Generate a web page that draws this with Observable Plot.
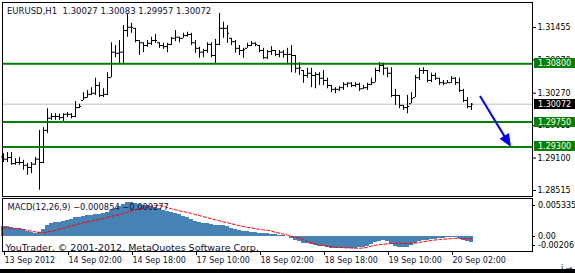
<!DOCTYPE html>
<html><head><meta charset="utf-8">
<script src="https://cdn.jsdelivr.net/npm/d3@7"></script>
<script src="https://cdn.jsdelivr.net/npm/@observablehq/plot@0.6"></script>
<style>
body{margin:0;background:#fff}
#wrap{position:relative;width:575px;height:273px;overflow:hidden;background:#fff}
#wrap svg{display:block}
#wrap text{white-space:pre}
#strip{position:absolute;left:0;right:0;bottom:0;height:4px;background:#000}
</style></head><body><div id="wrap"></div>
<script>
const symbol = "EURUSD,H1";
const open = [
1.2912,1.2908,1.2911,1.2900,1.2902,1.2902,1.2897,1.2893,1.2899,1.2908,
1.2902,1.2960,1.2982,1.2985,1.2985,1.2983,1.2989,1.2989,1.2985,1.3001,
1.3014,1.3019,1.3025,1.3027,1.3041,1.3023,1.3025,1.3055,1.3101,1.3099,
1.3101,1.3140,1.3146,1.3144,1.3122,1.3118,1.3113,1.3117,1.3122,1.3118,
1.3113,1.3111,1.3115,1.3126,1.3128,1.3126,1.3131,1.3133,1.3118,1.3108,
1.3101,1.3104,1.3115,1.3095,1.3115,1.3144,1.3144,1.3126,1.3120,1.3108,
1.3104,1.3108,1.3113,1.3117,1.3113,1.3104,1.3091,1.3102,1.3104,1.3097,
1.3101,1.3097,1.3097,1.3095,1.3072,1.3068,1.3059,1.3063,1.3059,1.3061,
1.3054,1.3050,1.3041,1.3034,1.3034,1.3037,1.3043,1.3045,1.3041,1.3043,
1.3035,1.3037,1.3043,1.3046,1.3068,1.3077,1.3072,1.3063,1.3023,1.3023,
1.3005,1.3001,1.3008,1.3019,1.3055,1.3068,1.3068,1.3050,1.3059,1.3054,
1.3046,1.3045,1.3046,1.3054,1.3046,1.3032,1.3014,1.30027];
const high = [
1.2918,1.2920,1.2920,1.2909,1.2911,1.2906,1.2900,1.2902,1.2911,1.2960,
1.2965,1.2999,1.2990,1.2990,1.2989,1.2990,1.2992,1.2990,1.3012,1.3007,
1.3028,1.3032,1.3037,1.3054,1.3046,1.3035,1.3064,1.3118,1.3113,1.3122,
1.3149,1.3169,1.3153,1.3144,1.3122,1.3118,1.3122,1.3128,1.3133,1.3118,
1.3117,1.3117,1.3128,1.3140,1.3128,1.3135,1.3137,1.3135,1.3122,1.3110,
1.3106,1.3118,1.3118,1.3124,1.3171,1.3155,1.3149,1.3126,1.3122,1.3113,
1.3108,1.3117,1.3120,1.3118,1.3113,1.3108,1.3104,1.3111,1.3104,1.3104,
1.3104,1.3108,1.3113,1.3095,1.3082,1.3068,1.3072,1.3072,1.3064,1.3064,
1.3068,1.3054,1.3041,1.3037,1.3039,1.3046,1.3046,1.3046,1.3046,1.3045,
1.3041,1.3045,1.3054,1.3072,1.3082,1.3081,1.3073,1.3073,1.3034,1.3023,
1.3005,1.3023,1.3028,1.3059,1.3072,1.3073,1.3068,1.3063,1.3063,1.3054,
1.3050,1.3050,1.3057,1.3055,1.3054,1.3034,1.3019,1.30083];
const low = [
1.2902,1.2902,1.2897,1.2897,1.2897,1.2888,1.2879,1.2882,1.2897,1.2852,
1.2900,1.2954,1.2978,1.2978,1.2978,1.2976,1.2983,1.2981,1.2983,1.2999,
1.3014,1.3018,1.3023,1.3023,1.3019,1.3019,1.3023,1.3055,1.3091,1.3081,
1.3081,1.3128,1.3135,1.3118,1.3095,1.3100,1.3110,1.3113,1.3117,1.3108,
1.3106,1.3100,1.3113,1.3120,1.3118,1.3126,1.3128,1.3113,1.3099,1.3090,
1.3091,1.3099,1.3091,1.3081,1.3113,1.3126,1.3117,1.3113,1.3099,1.3095,
1.3090,1.3108,1.3111,1.3111,1.3100,1.3088,1.3088,1.3095,1.3093,1.3091,
1.3090,1.3081,1.3064,1.3063,1.3059,1.3045,1.3054,1.3037,1.3035,1.3041,
1.3041,1.3035,1.3028,1.3026,1.3030,1.3032,1.3037,1.3037,1.3037,1.3030,
1.3034,1.3032,1.3041,1.3046,1.3064,1.3059,1.3055,1.3019,1.3005,1.2999,
1.2996,1.2990,1.3008,1.3019,1.3050,1.3061,1.3046,1.3046,1.3050,1.3041,
1.3041,1.3045,1.3045,1.3041,1.3028,1.3010,1.2999,1.29957];
const close = [
1.2908,1.2911,1.2900,1.2902,1.2902,1.2897,1.2893,1.2899,1.2908,1.2902,
1.2960,1.2982,1.2985,1.2985,1.2983,1.2989,1.2989,1.2985,1.3001,1.3003,
1.3019,1.3025,1.3027,1.3041,1.3023,1.3025,1.3055,1.3101,1.3099,1.3101,
1.3140,1.3146,1.3146,1.3122,1.3118,1.3113,1.3117,1.3122,1.3122,1.3113,
1.3111,1.3115,1.3126,1.3128,1.3126,1.3131,1.3133,1.3118,1.3108,1.3101,
1.3104,1.3115,1.3095,1.3115,1.3144,1.3144,1.3135,1.3120,1.3108,1.3104,
1.3106,1.3113,1.3117,1.3115,1.3104,1.3091,1.3102,1.3104,1.3097,1.3101,
1.3097,1.3097,1.3095,1.3072,1.3073,1.3059,1.3063,1.3059,1.3061,1.3054,
1.3050,1.3041,1.3034,1.3034,1.3037,1.3043,1.3045,1.3041,1.3043,1.3035,
1.3037,1.3043,1.3046,1.3068,1.3077,1.3072,1.3063,1.3023,1.3023,1.3005,
1.3001,1.3003,1.3017,1.3055,1.3068,1.3068,1.3050,1.3059,1.3054,1.3046,
1.3045,1.3046,1.3054,1.3046,1.3032,1.3014,1.3003,1.30072];
const macd = [
0.00137,0.00137,0.00123,0.00116,0.00110,0.00096,0.00075,0.00055,0.00045,0.00055,
0.00096,0.00151,0.00178,0.00192,0.00205,0.00219,0.00233,0.00247,0.00267,0.00274,
0.00288,0.00295,0.00301,0.00315,0.00315,0.00322,0.00343,0.00370,0.00397,0.00418,
0.00452,0.00473,0.00473,0.00466,0.00452,0.00438,0.00432,0.00418,0.00404,0.00390,
0.00370,0.00356,0.00343,0.00329,0.00308,0.00288,0.00274,0.00247,0.00219,0.00199,
0.00185,0.00178,0.00164,0.00151,0.00158,0.00151,0.00137,0.00116,0.00103,0.00089,
0.00075,0.00069,0.00062,0.00055,0.00048,0.00041,0.00041,0.00034,0.00027,0.00021,
0.00014,0.00000,-0.00027,-0.00055,-0.00069,-0.00089,-0.00096,-0.00110,-0.00123,-0.00130,
-0.00137,-0.00144,-0.00158,-0.00164,-0.00168,-0.00168,-0.00164,-0.00158,-0.00158,-0.00151,
-0.00144,-0.00130,-0.00110,-0.00082,-0.00062,-0.00055,-0.00069,-0.00103,-0.00130,-0.00151,
-0.00151,-0.00144,-0.00123,-0.00096,-0.00069,-0.00055,-0.00048,-0.00041,-0.00034,-0.00027,
-0.00021,-0.00014,-0.00007,-0.00007,-0.00027,-0.00048,-0.00062,-0.000854];
const signal = [
0.00127,0.00123,0.00118,0.00114,0.00110,0.00100,0.00088,0.00076,0.00068,0.00062,
0.00059,0.00066,0.00078,0.00090,0.00105,0.00120,0.00137,0.00152,0.00166,0.00180,
0.00196,0.00208,0.00219,0.00230,0.00242,0.00256,0.00272,0.00285,0.00298,0.00310,
0.00326,0.00342,0.00360,0.00375,0.00390,0.00403,0.00417,0.00428,0.00434,0.00438,
0.00425,0.00405,0.00390,0.00375,0.00362,0.00350,0.00338,0.00327,0.00310,0.00295,
0.00280,0.00265,0.00250,0.00236,0.00222,0.00208,0.00195,0.00180,0.00165,0.00155,
0.00143,0.00130,0.00122,0.00112,0.00104,0.00095,0.00090,0.00078,0.00062,0.00048,
0.00036,0.00022,0.00008,-0.00008,-0.00022,-0.00045,-0.00065,-0.00085,-0.00100,-0.00112,
-0.00122,-0.00132,-0.00140,-0.00146,-0.00150,-0.00154,-0.00156,-0.00158,-0.00160,-0.00160,
-0.00158,-0.00145,-0.00130,-0.00118,-0.00110,-0.00104,-0.00098,-0.00094,-0.00092,-0.00092,
-0.00093,-0.00093,-0.00092,-0.00088,-0.00078,-0.00068,-0.00060,-0.00052,-0.00045,-0.00038,
-0.00034,-0.00030,-0.00026,-0.00023,-0.00024,-0.00028,-0.00030,-0.000277];

const levels = [1.30800, 1.29750, 1.29300];
const priceTicks = [1.31455, 1.30870, 1.30270, 1.29685, 1.29100, 1.28515];
const timeTicks = [0, 16, 32, 48, 64, 80, 96, 112];
const timeLabels = ["13 Sep 2012","14 Sep 02:00","14 Sep 18:00","17 Sep 10:00","18 Sep 02:00","18 Sep 18:00","19 Sep 10:00","20 Sep 02:00"];
const macdTicks = [0.005335, 0, -0.00206];
const macdTickLabels = ["0.005335", "0.00", "-0.00206"];
const arrowBar = [119.25, 127];
const arrowPrice = [1.3021, 1.2929];
const copyright = "YouTrader, \u00a9 2001-2012, MetaQuotes Software Corp.";

const bid = close[close.length - 1];
const tagValues = [levels[0], bid, levels[1], levels[2]];
const tagFill = ["#008000", "#000000", "#008000", "#008000"];
const f5 = d3.format(".5f");
const fm = d3.format(".6f");
const bars = close.map((c, i) => ({i, open: open[i], high: high[i], low: low[i], close: c, macd: macd[i], signal: signal[i]}));
const n = bars.length - 1;
const title = `${symbol}  ${f5(open[n])} ${f5(high[n])} ${f5(low[n])} ${f5(close[n])}`;
const macdTitle = `MACD(12,26,9) ${fm(macd[n])} ${fm(signal[n])}`;

const FONT = "DejaVu Sans";
const TEXT = "#101038";
const xDomain = [-0.25, 132.25];

function arrowMark(index, {x, y}) {
  const x0 = x(arrowBar[0]), y0 = y(arrowPrice[0]), x1 = x(arrowBar[1]), y1 = y(arrowPrice[1]);
  const dx = x1 - x0, dy = y1 - y0, len = Math.hypot(dx, dy), ux = dx / len, uy = dy / len;
  const L = 13, W = 5.5;
  const bx = x1 - ux * L, by = y1 - uy * L;
  const g = d3.create("svg:g");
  g.append("line").attr("x1", x0).attr("y1", y0).attr("x2", bx + ux * 2).attr("y2", by + uy * 2)
    .attr("stroke", "#0000ff").attr("stroke-width", 2);
  g.append("path").attr("d", `M${x1},${y1}L${bx - uy * W},${by + ux * W}L${bx + uy * W},${by - ux * W}Z`)
    .attr("fill", "#0000ff");
  return g.node();
}

function tagMark(index, {y}, values, {width, marginRight}) {
  const g = d3.create("svg:g");
  tagValues.forEach((v, k) => {
    const yy = Math.round(y(v));
    g.append("rect").attr("x", width - marginRight + 2).attr("y", yy - 5).attr("width", 41).attr("height", 10).attr("fill", tagFill[k]);
    g.append("text").attr("x", width - marginRight + 6).attr("y", yy).attr("dy", "0.35em")
      .attr("text-anchor", "start").attr("fill", "#fff").attr("font-size", 8).attr("font-family", FONT).text(f5(v));
  });
  return g.node();
}

function macdScaleMark(index, {y}, values, {width, height, marginRight, marginTop, marginBottom}) {
  const top = marginTop, bottom = height - marginBottom;
  const g = d3.create("svg:g");
  macdTicks.forEach((v, k) => {
    const yy = Math.max(top + 7, Math.min(bottom - 6, y(v)));
    g.append("line").attr("x1", width - marginRight).attr("x2", width - marginRight + 3)
      .attr("y1", Math.round(yy) + 0.5).attr("y2", Math.round(yy) + 0.5).attr("stroke", "#000");
    g.append("text").attr("x", width - marginRight + 6).attr("y", yy).attr("dy", "0.35em")
      .attr("text-anchor", "start").attr("fill", "#000").attr("font-size", 8).attr("font-family", FONT).text(macdTickLabels[k]);
  });
  return g.node();
}

const main = Plot.plot({
  width: 575, height: 197, marginTop: 2, marginBottom: 1, marginLeft: 2, marginRight: 43,
  x: {domain: xDomain, axis: null},
  y: {domain: [1.28407, 1.31906], axis: null},
  style: {fontFamily: FONT, fontSize: "8px", color: "#000", background: "#fff", overflow: "visible"},
  marks: [
    Plot.ruleY([bid], {stroke: "#c0c0c0"}),
    Plot.ruleY(levels, {stroke: "#008000", strokeWidth: 2}),
    Plot.ruleX(bars, {x: "i", y1: "low", y2: "high", stroke: "#000"}),
    Plot.ruleY(bars, {y: "open", x1: d => d.i - 0.5, x2: d => d.i, stroke: "#000"}),
    Plot.ruleY(bars, {y: "close", x1: d => d.i, x2: d => d.i + 0.5, stroke: "#000"}),
    arrowMark,
    Plot.frame({stroke: "#000"}),
    Plot.axisY({anchor: "right", ticks: priceTicks, tickFormat: f5, tickSize: 3, tickPadding: 2}),
    tagMark,
    Plot.text([title], {frameAnchor: "top-left", dx: 4.5, dy: 9, lineAnchor: "middle", fill: TEXT, fontSize: 8.5, text: d => d})
  ]
});

const sub = Plot.plot({
  width: 575, height: 76, marginTop: 1, marginBottom: 22, marginLeft: 2, marginRight: 43,
  x: {domain: xDomain, axis: null},
  y: {domain: [-0.00206, 0.005335], axis: null},
  style: {fontFamily: FONT, fontSize: "8px", color: "#000", background: "#fff", overflow: "visible"},
  marks: [
    Plot.rect(bars, {x1: d => d.i - 0.5, x2: d => d.i + 0.5, y1: d => 0, y2: "macd", fill: "#4682b4", shapeRendering: "crispEdges"}),
    Plot.line(bars, {x: "i", y: "signal", stroke: "#ff0000", strokeDasharray: "3,2", strokeWidth: 1}),
    Plot.frame({stroke: "#000"}),
    Plot.axisX({ticks: timeTicks, tickFormat: d => timeLabels[timeTicks.indexOf(d)], tickSize: 4, tickPadding: 2, textAnchor: "start", dx: 1, fill: TEXT}),
    macdScaleMark,
    Plot.text([macdTitle], {frameAnchor: "top-left", dx: 5, dy: 9, lineAnchor: "middle", fill: TEXT, fontSize: 8.3, text: d => d}),
    Plot.text([copyright], {frameAnchor: "bottom-left", dx: 3, dy: -1, lineAnchor: "bottom", fontSize: 9.5, fill: TEXT, text: d => d})
  ]
});

const wrap = document.getElementById("wrap");
wrap.append(main, sub);
const strip = document.createElement("div");
strip.id = "strip";
wrap.append(strip);
</script></body></html>
